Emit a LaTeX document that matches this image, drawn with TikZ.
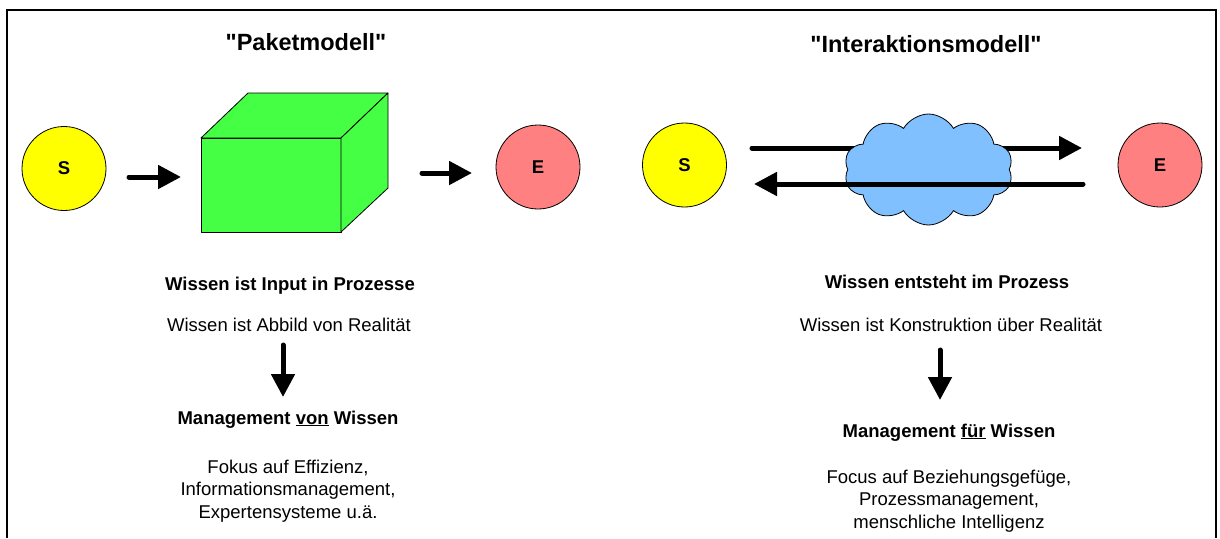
\documentclass[tikz,border=0pt]{standalone}
\usepackage{fontspec}
\setmainfont{Liberation Sans}[Ligatures=TeXOff]
\usetikzlibrary{arrows.meta,shapes.symbols}
\definecolor{sunyellow}{RGB}{255,255,0}
\definecolor{salmonred}{RGB}{255,128,128}
\definecolor{cubegreen}{RGB}{68,255,68}
\definecolor{cloudblue}{RGB}{128,192,255}
\tikzset{
  actor/.style={circle, draw=black, line width=0.8pt, minimum size=84pt, inner sep=0pt,
    font=\fontsize{18.5}{22}\selectfont\bfseries},
  bigarrow/.style={line width=5pt, line cap=round, -{Triangle[length=23pt,width=23pt]}},
  titletext/.style={anchor=base, inner sep=0pt, font=\fontsize{23.5}{28}\selectfont\bfseries},
  boldtext/.style={anchor=base, inner sep=0pt, font=\fontsize{18.5}{22.5}\selectfont\bfseries},
  plaintext/.style={anchor=base, inner sep=0pt, align=center, font=\fontsize{18.5}{22.5}\selectfont},
  blocktext/.style={anchor=north, inner sep=0pt, align=center, font=\fontsize{18.5}{22.5}\selectfont},
  cubeface/.style={fill=cubegreen, draw=black, line width=0.8pt, line join=round},
}
\begin{document}
\begin{tikzpicture}[x=1pt,y=-1pt]
\useasboundingbox (0,0) rectangle (1220,538);
% frame (open at bottom)
\draw[line width=2pt] (7,538) -- (7,10) -- (1216,10) -- (1216,538);

% ---------- left: Paketmodell ----------
\node[titletext] (tleft) at (306,50) {"Paketmodell"};
\node[actor, fill=sunyellow] (sl) at (64,168.5) {S};
\node[actor, fill=salmonred] (el) at (538,167) {E};
% cube
\draw[cubeface] (201,138) rectangle (341,232);
\draw[cubeface] (201,138) -- (248,93) -- (388,93) -- (341,138) -- cycle;
\draw[cubeface] (341,138) -- (388,93) -- (388,188) -- (341,232) -- cycle;
\coordinate (a1s) at (129,177);
\coordinate (a1e) at (181,177);
\coordinate (a2s) at (422,173);
\coordinate (a2e) at (472,173);
\draw[bigarrow] (a1s) -- (a1e);
\draw[bigarrow] (a2s) -- (a2e);

\node[boldtext] (l1) at (290,290) {Wissen ist Input in Prozesse};
\node[plaintext] (l2) at (289,331) {Wissen ist Abbild von Realität};
\coordinate (d1s) at (283,345);
\coordinate (d1e) at (283,397);
\draw[bigarrow] (d1s) -- (d1e);
\node[boldtext] (l3) at (288,424) {Management \underline{von} Wissen};
\node[blocktext] (l4) at (288,459.5) {Fokus auf Effizienz,\\Informationsmanagement,\\Expertensysteme u.ä.};

% ---------- right: Interaktionsmodell ----------
\node[titletext] (tright) at (926,52) {"Interaktionsmodell"};
\node[actor, fill=sunyellow] (sr) at (684.5,165) {S};
\node[actor, fill=salmonred] (er) at (1160,165) {E};
\coordinate (r1s) at (752,148);
\coordinate (r1e) at (1082,148);
\coordinate (r2s) at (1083,184);
\coordinate (r2e) at (754,184);
\draw[bigarrow] (r1s) -- (r1e);
\node[cloud, cloud puffs=10, cloud puff arc=120, cloud ignores aspect, draw=black, line width=0.8pt,
      fill=cloudblue, minimum width=169pt, minimum height=111pt, inner sep=0pt] (cloud) at (928.5,169.5) {};
\draw[bigarrow] (r2s) -- (r2e);

\node[boldtext] (r1) at (947,288) {Wissen entsteht im Prozess};
\node[plaintext] (r2) at (951,331) {Wissen ist Konstruktion über Realität};
\coordinate (d2s) at (940,350);
\coordinate (d2e) at (940,400);
\draw[bigarrow] (d2s) -- (d2e);
\node[boldtext] (r3) at (949,437) {Management \underline{für} Wissen};
\node[blocktext] (r4) at (949,469.5) {Focus auf Beziehungsgefüge,\\Prozessmanagement,\\menschliche Intelligenz};
\end{tikzpicture}
\end{document}
